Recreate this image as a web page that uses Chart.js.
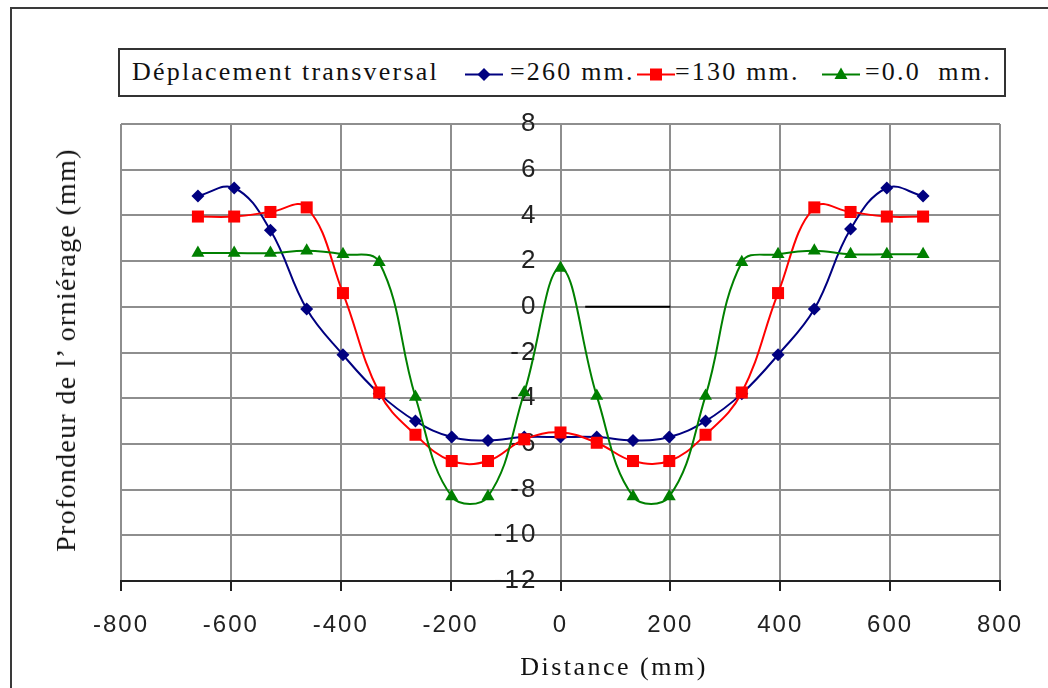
<!DOCTYPE html>
<html>
<head>
<meta charset="utf-8">
<script src="https://cdn.jsdelivr.net/npm/chart.js@4.4.0/dist/chart.umd.min.js"></script>
<style>
  body { margin: 0; background: #fff; }
  #wrap { position: relative; width: 1048px; height: 688px; overflow: hidden; background: #fff; }
  #frame { position: absolute; left: 10px; top: 7px; width: 1100px; height: 800px; border: 2px solid #3a3a3a; }
  #myChart { position: absolute; left: 0; top: 0; }
  #legend { position: absolute; left: 118px; top: 48px; width: 884px; height: 45px; border: 2px solid #333; background: #fff;
            font-family: 'Liberation Serif', serif; font-size: 26px; letter-spacing: 2.2px; color: #111; }
  #legend span, #legend svg { position: absolute; }
  #legend span { top: 7px; white-space: pre; }
  #legend svg { top: 12px; }
  .axis-title { position: absolute; font-family: 'Liberation Serif', serif; color: #111; white-space: nowrap; }
  #ytitle { font-size: 28px; letter-spacing: 1.3px; left: 66px; top: 350px; transform: translate(-50%, -50%) rotate(-90deg); }
  #xtitle { font-size: 26px; letter-spacing: 2.5px; left: 614px; top: 667px; transform: translate(-50%, -50%); }
</style>
</head>
<body>
<div id="wrap">
  <div id="frame"></div>
  <canvas id="myChart" width="1048" height="688"></canvas>
  <div id="legend"></div>
  <div class="axis-title" id="ytitle">Profondeur de l’ orniérage (mm)</div>
  <div class="axis-title" id="xtitle">Distance (mm)</div>
</div>
<script>
// distances across the lane (mm)
var distances = [-660, -594, -528, -462, -396, -330, -264, -198, -132, -66, 0, 66, 132, 198, 264, 330, 396, 462, 528, 594, 660];

// rut depth (mm) for each transversal shift
var depth260 = [4.85, 5.2, 3.35, -0.1, -2.1, -3.8, -5.0, -5.7, -5.85, -5.7, -5.7, -5.7, -5.85, -5.7, -5.0, -3.8, -2.1, -0.1, 3.4, 5.2, 4.85];
var depth130 = [3.95, 3.95, 4.15, 4.35, 0.6, -3.75, -5.6, -6.75, -6.75, -5.8, -5.5, -5.95, -6.75, -6.75, -5.6, -3.75, 0.6, 4.35, 4.15, 3.95, 3.95];
var depth0 = [2.35, 2.35, 2.35, 2.45, 2.3, 1.95, -3.95, -8.3, -8.3, -3.75, 1.7, -3.9, -8.3, -8.3, -3.9, 1.95, 2.3, 2.45, 2.3, 2.3, 2.3];

// short black segment on the zero line
var segmentX = [45, 200];
var segmentY = [0, 0];

var legendTitle = 'Déplacement transversal';
var seriesLabels = ['=260 mm.', '=130 mm.', '=0.0  mm.'];
var seriesColors = ['#000080', '#ff0000', '#008000'];
var seriesStyles = ['rectRot', 'rect', 'triangle'];
var seriesRadius = [6.5, 8.5, 7.5];

var xMin = -800, xMax = 800, xStep = 200;
var yMin = -12, yMax = 8, yStep = 2;

function toPoints(xs, ys) {
    return xs.map(function (x, i) { return { x: x, y: ys[i] }; });
}

var seriesValues = [depth260, depth130, depth0];
var datasets = seriesValues.map(function (vals, i) {
    return {
        label: seriesLabels[i],
        data: toPoints(distances, vals),
        borderColor: seriesColors[i],
        backgroundColor: seriesColors[i],
        borderWidth: 2,
        pointStyle: seriesStyles[i],
        pointRadius: seriesRadius[i],
        pointHoverRadius: seriesRadius[i],
        pointBorderWidth: 0,
        tension: 0.4,
        fill: false,
        order: 2 - i // later series on top, like the original
    };
});
datasets.push({
    label: 'segment',
    data: toPoints(segmentX, segmentY),
    borderColor: '#000',
    borderWidth: 2,
    pointRadius: 0,
    fill: false,
    order: 3
});

// wider letter spacing for canvas text (ticks)
var spacing = {
    id: 'spacing',
    beforeDraw: function (chart) { chart.ctx.letterSpacing = '2px'; }
};

var ctx = document.getElementById('myChart').getContext('2d');
var myChart = new Chart(ctx, {
    type: 'line',
    data: { datasets: datasets },
    options: {
        responsive: false,
        animation: false,
        layout: { padding: { left: 121, right: 48, top: 124, bottom: 45 } },
        plugins: { legend: { display: false }, tooltip: { enabled: false } },
        scales: {
            x: {
                type: 'linear',
                min: xMin, max: xMax,
                ticks: { stepSize: xStep, padding: 20, color: '#222', font: { family: 'Liberation Sans', size: 24 } },
                grid: { color: '#8e8e8e', lineWidth: 2, tickColor: '#222', tickLength: 10, tickWidth: 2 },
                border: { color: '#222', width: 2 },
                afterFit: function (scale) { scale.height = 62; }
            },
            y: {
                type: 'linear',
                // labels sit just left of the zero line
                position: { x: -42 },
                min: yMin, max: yMax,
                ticks: { stepSize: yStep, color: '#222', font: { family: 'Liberation Sans', size: 26 } },
                grid: { color: '#8e8e8e', lineWidth: 2, drawTicks: false },
                border: { display: false }
            }
        }
    },
    plugins: [spacing]
});

// legend box, built from the series arrays
var legend = document.getElementById('legend');
var titleSpan = document.createElement('span');
titleSpan.textContent = legendTitle;
titleSpan.style.left = '12px';
legend.appendChild(titleSpan);

var sampleLeft = [345, 517, 702];
var textLeft = [390, 555, 745];
function markerSvg(style, color) {
    var m = '';
    if (style === 'rectRot') m = '<polygon points="19,6 25.5,12.5 19,19 12.5,12.5" fill="' + color + '"/>';
    else if (style === 'rect') m = '<rect x="13" y="6.5" width="12" height="12" fill="' + color + '"/>';
    else m = '<polygon points="19,5.5 25.5,17 12.5,17" fill="' + color + '"/>';
    return '<svg width="38" height="25" xmlns="http://www.w3.org/2000/svg">' +
        '<line x1="0" y1="12.5" x2="38" y2="12.5" stroke="' + color + '" stroke-width="2"/>' + m + '</svg>';
}
seriesLabels.forEach(function (lab, i) {
    var holder = document.createElement('div');
    holder.innerHTML = markerSvg(seriesStyles[i], seriesColors[i]);
    var svg = holder.firstChild;
    svg.style.left = sampleLeft[i] + 'px';
    legend.appendChild(svg);
    var s = document.createElement('span');
    s.textContent = lab;
    s.style.left = textLeft[i] + 'px';
    legend.appendChild(s);
});
</script>
</body>
</html>
